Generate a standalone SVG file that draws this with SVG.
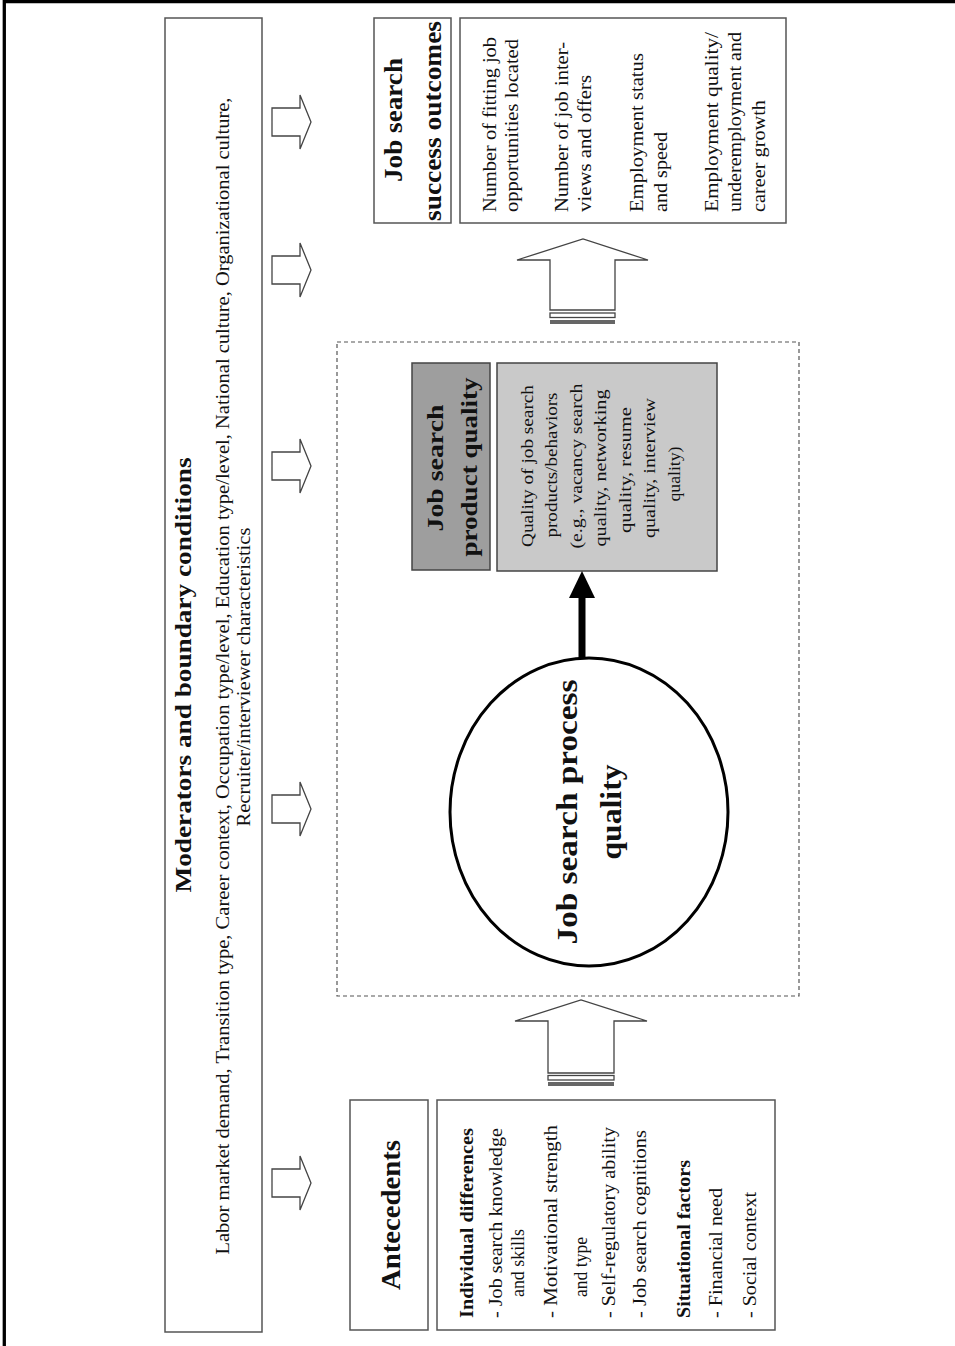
<svg xmlns="http://www.w3.org/2000/svg" width="955" height="1346" viewBox="0 0 955 1346">
<style>
text{font-family:"Liberation Serif","Times New Roman",serif;fill:#111}
.b{font-weight:bold}
.box{fill:#fff;stroke:#555;stroke-width:1.5}
.harrow{fill:#fff;stroke:#444;stroke-width:1.3;stroke-linejoin:miter}
.t18{font-size:18px}
.t17{font-size:17px}
</style>
<rect width="955" height="1346" fill="#fff"/>
<g id="frame" stroke="#000" stroke-width="3.3">
<line x1="4.3" y1="1.5" x2="955" y2="1.5"/>
<line x1="4.3" y1="0" x2="4.3" y2="1346"/>
</g>

<g id="moderators">
<rect class="box" x="165" y="18" width="97" height="1314"/>
<text class="b" font-size="24" text-anchor="middle" transform="translate(191,675) rotate(-90)" textLength="435" lengthAdjust="spacingAndGlyphs">Moderators and boundary conditions</text>
<text class="t18" text-anchor="middle" transform="translate(229,676) rotate(-90)" textLength="1157" lengthAdjust="spacingAndGlyphs">Labor market demand, Transition type, Career context, Occupation type/level, Education type/level, National culture, Organizational culture,</text>
<text class="t18" text-anchor="middle" transform="translate(250,677) rotate(-90)" textLength="299" lengthAdjust="spacingAndGlyphs">Recruiter/interviewer characteristics</text>
</g>

<g id="antecedents-title">
<rect class="box" x="350" y="1100" width="78" height="230"/>
<text class="b" font-size="28" text-anchor="middle" transform="translate(400,1215) rotate(-90)" textLength="150" lengthAdjust="spacingAndGlyphs">Antecedents</text>
</g>

<g id="antecedents-list">
<rect class="box" x="437" y="1100" width="338" height="230"/>
<text class="t18 b" transform="translate(473,1318) rotate(-90)" textLength="190" lengthAdjust="spacingAndGlyphs">Individual differences</text>
<text class="t18" transform="translate(502,1318) rotate(-90)" textLength="190" lengthAdjust="spacingAndGlyphs">- Job search knowledge</text>
<text class="t18" transform="translate(524,1297) rotate(-90)" textLength="68" lengthAdjust="spacingAndGlyphs">and skills</text>
<text class="t18" transform="translate(557,1318) rotate(-90)" textLength="193" lengthAdjust="spacingAndGlyphs">- Motivational  strength</text>
<text class="t18" transform="translate(587,1297) rotate(-90)" textLength="60" lengthAdjust="spacingAndGlyphs">and type</text>
<text class="t18" transform="translate(615,1318) rotate(-90)" textLength="191" lengthAdjust="spacingAndGlyphs">- Self-regulatory ability</text>
<text class="t18" transform="translate(646,1318) rotate(-90)" textLength="188" lengthAdjust="spacingAndGlyphs">- Job search cognitions</text>
<text class="t18 b" transform="translate(690,1318) rotate(-90)" textLength="158" lengthAdjust="spacingAndGlyphs">Situational factors</text>
<text class="t18" transform="translate(722,1318) rotate(-90)" textLength="130" lengthAdjust="spacingAndGlyphs">- Financial need</text>
<text class="t18" transform="translate(756,1318) rotate(-90)" textLength="126" lengthAdjust="spacingAndGlyphs">- Social context</text>
</g>

<g id="process-frame">
<rect x="337" y="342" width="462" height="654" fill="none" stroke="#555" stroke-width="1.2" stroke-dasharray="4 3"/>
</g>

<g id="process-quality">
<ellipse cx="589" cy="812" rx="139" ry="154" fill="#fff" stroke="#000" stroke-width="3"/>
<text class="b" font-size="29" text-anchor="middle" transform="translate(577,812) rotate(-90)" textLength="265" lengthAdjust="spacingAndGlyphs">Job search process</text>
<text class="b" font-size="29" text-anchor="middle" transform="translate(621,812) rotate(-90)" textLength="95" lengthAdjust="spacingAndGlyphs">quality</text>
</g>

<g id="product-title">
<rect x="412" y="363" width="78" height="207" fill="#9e9e9e" stroke="#444" stroke-width="1.5"/>
<text class="b" font-size="24" text-anchor="middle" transform="translate(443,468) rotate(-90)" textLength="127" lengthAdjust="spacingAndGlyphs">Job search</text>
<text class="b" font-size="24" text-anchor="middle" transform="translate(477,467) rotate(-90)" textLength="179" lengthAdjust="spacingAndGlyphs">product quality</text>
</g>

<g id="product-detail">
<rect x="497" y="363" width="220" height="208" fill="#c9c9c9" stroke="#444" stroke-width="1.5"/>
<text class="t17" text-anchor="middle" transform="translate(533,466) rotate(-90)" textLength="162" lengthAdjust="spacingAndGlyphs">Quality of job search</text>
<text class="t17" text-anchor="middle" transform="translate(557,465) rotate(-90)" textLength="145" lengthAdjust="spacingAndGlyphs">products/behaviors</text>
<text class="t17" text-anchor="middle" transform="translate(582,466) rotate(-90)" textLength="165" lengthAdjust="spacingAndGlyphs">(e.g., vacancy search</text>
<text class="t17" text-anchor="middle" transform="translate(606,468) rotate(-90)" textLength="157" lengthAdjust="spacingAndGlyphs">quality, networking</text>
<text class="t17" text-anchor="middle" transform="translate(631,470) rotate(-90)" textLength="126" lengthAdjust="spacingAndGlyphs">quality, resume</text>
<text class="t17" text-anchor="middle" transform="translate(655,468) rotate(-90)" textLength="140" lengthAdjust="spacingAndGlyphs">quality, interview</text>
<text class="t17" text-anchor="middle" transform="translate(680,474) rotate(-90)" textLength="55" lengthAdjust="spacingAndGlyphs">quality)</text>
</g>

<g id="outcomes-title">
<rect class="box" x="374" y="18" width="77" height="205"/>
<text class="b" font-size="26" text-anchor="middle" transform="translate(402,120) rotate(-90)" textLength="124" lengthAdjust="spacingAndGlyphs">Job search</text>
<text class="b" font-size="26" text-anchor="middle" transform="translate(441,121) rotate(-90)" textLength="200" lengthAdjust="spacingAndGlyphs">success outcomes</text>
</g>

<g id="outcomes-list">
<rect class="box" x="460" y="18" width="326" height="205"/>
<text class="t18" transform="translate(496,212) rotate(-90)" textLength="175" lengthAdjust="spacingAndGlyphs">Number of fitting job</text>
<text class="t18" transform="translate(518,212) rotate(-90)" textLength="173" lengthAdjust="spacingAndGlyphs">opportunities located</text>
<text class="t18" transform="translate(568,212) rotate(-90)" textLength="170" lengthAdjust="spacingAndGlyphs">Number of job inter-</text>
<text class="t18" transform="translate(591,212) rotate(-90)" textLength="137" lengthAdjust="spacingAndGlyphs">views and offers</text>
<text class="t18" transform="translate(643,212) rotate(-90)" textLength="159" lengthAdjust="spacingAndGlyphs">Employment status</text>
<text class="t18" transform="translate(667,212) rotate(-90)" textLength="80" lengthAdjust="spacingAndGlyphs">and speed</text>
<text class="t18" transform="translate(718,212) rotate(-90)" textLength="180" lengthAdjust="spacingAndGlyphs">Employment quality/</text>
<text class="t18" transform="translate(741,212) rotate(-90)" textLength="180" lengthAdjust="spacingAndGlyphs">underemployment and</text>
<text class="t18" transform="translate(765,212) rotate(-90)" textLength="112" lengthAdjust="spacingAndGlyphs">career growth</text>
</g>

<g id="connectors">
<polygon class="harrow" points="272,108 300,108 300,95 311,122 300,149 300,136 272,136"/>
<polygon class="harrow" points="272,256 300,256 300,243 311,270 300,297 300,284 272,284"/>
<polygon class="harrow" points="272,452 300,452 300,439 311,466 300,493 300,480 272,480"/>
<polygon class="harrow" points="272,795 300,795 300,782 311,809 300,836 300,823 272,823"/>
<polygon class="harrow" points="272,1169 300,1169 300,1156 311,1183 300,1210 300,1197 272,1197"/>
<polygon class="harrow" points="550,310 550,260 517,260 583,239 648,260 615,260 615,310"/>
<rect x="550" y="313" width="65" height="4.5" fill="#fff" stroke="#444" stroke-width="1.3"/>
<rect x="550" y="320" width="65" height="4" fill="#666"/>
<polygon class="harrow" points="548,1073 548,1021 515,1021 581,1000 647,1021 614,1021 614,1073"/>
<rect x="548" y="1075.5" width="66" height="4.5" fill="#fff" stroke="#444" stroke-width="1.3"/>
<rect x="548" y="1082" width="66" height="4" fill="#666"/>
<line x1="582" y1="659" x2="582" y2="596" stroke="#000" stroke-width="7"/>
<polygon points="582,571 569,598 595,598" fill="#000"/>
</g>
</svg>
